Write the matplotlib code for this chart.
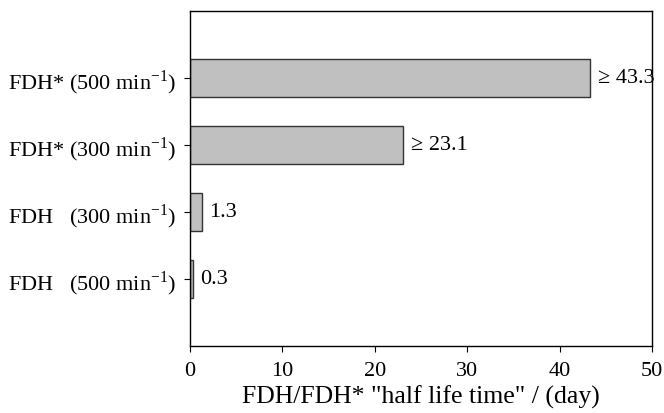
import numpy as np
import matplotlib.pyplot as plt

plt.rcParams['font.family'] = ['Liberation Serif', 'DejaVu Serif']
plt.rcParams['mathtext.fontset'] = 'custom'
plt.rcParams['mathtext.rm'] = 'Liberation Serif'

# data (bottom to top)
labels = ['FDH   (500 min$^{\\mathrm{-1}}$)', 'FDH   (300 min$^{\\mathrm{-1}}$)',
          'FDH* (300 min$^{\\mathrm{-1}}$)', 'FDH* (500 min$^{\\mathrm{-1}}$)']
values = [0.3, 1.3, 23.1, 43.3]
value_text = ['0.3', '1.3', '\u2265 23.1', '\u2265 43.3']

fig = plt.figure(figsize=(6.64, 4.14), dpi=100)
ax = fig.add_axes([0.286, 0.162, 0.696, 0.809])

pos = np.arange(len(values))
ax.barh(pos, values, height=0.57, color='#c0c0c0', edgecolor='#333333', linewidth=1)
for p, v, t in zip(pos, values, value_text):
    ax.text(v + 0.8, p, t, va='center', ha='left', fontsize=16)

ax.set_xlim(0, 50)
ax.set_ylim(-1, 4)
ax.set_xticks([0, 10, 20, 30, 40, 50])
ax.set_yticks(pos)
ax.set_yticklabels(labels)
ax.tick_params(axis='both', direction='out', labelsize=16, length=4)
ax.tick_params(axis='y', pad=6)
ax.tick_params(axis='x', pad=7)
ax.set_xlabel('FDH/FDH* "half life time" / (day)', fontsize=18.5, labelpad=3)
for s in ax.spines.values():
    s.set_linewidth(1)

plt.savefig('out.png')
